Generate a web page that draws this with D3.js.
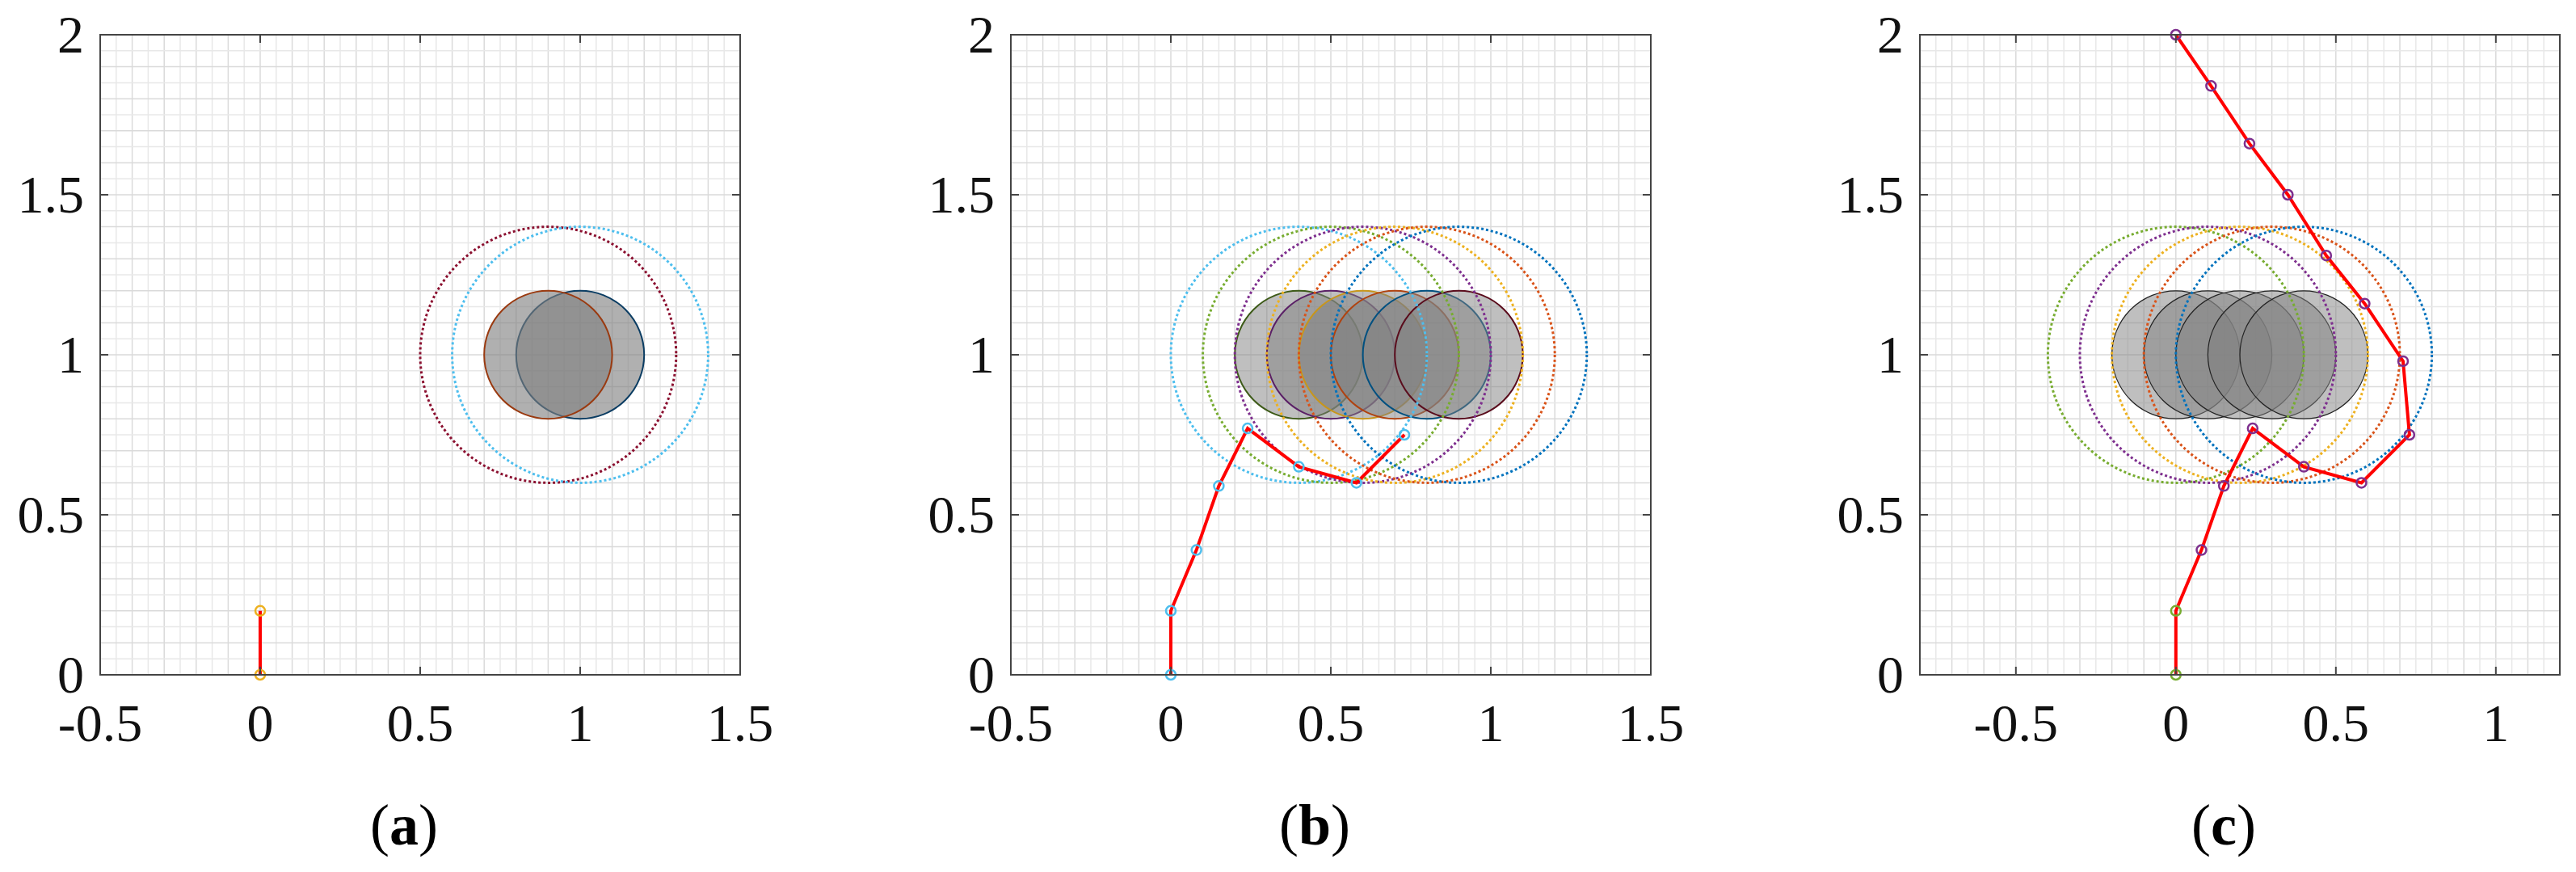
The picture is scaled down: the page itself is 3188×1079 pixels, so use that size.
<!DOCTYPE html>
<html><head><meta charset="utf-8">
<script src="https://cdn.jsdelivr.net/npm/d3@7"></script>
<style>body{margin:0;background:#fff}svg{display:block}</style>
</head><body>
<script>
// ---- data ----
const panelLabels = ["a", "b", "c"];
const xDomains = [[-0.5, 1.5], [-0.5, 1.5], [-0.8, 1.2]];
const xTickValues = [[-0.5, 0, 0.5, 1, 1.5], [-0.5, 0, 0.5, 1, 1.5], [-0.5, 0, 0.5, 1]];
const yTickValues = [0, 0.5, 1, 1.5, 2];
const bodyRadius = 0.2, rangeRadius = 0.4;
// filled obstacle circles: centre x (y = 1) and outline colour
const aBodies = [[1.0, "#0b3d63"], [0.9, "#9a3a10"]];
const aRanges = [[0.9, "#8b1030"], [1.0, "#4DBEEE"]];
const bBodies = [[0.4, "#3d5a18"], [0.5, "#5a1f66"], [0.6, "#c8961a"], [0.7, "#b0420f"], [0.8, "#005080"], [0.9, "#5a0c1c"]];
const bRanges = [[0.4, "#4DBEEE"], [0.5, "#77AC30"], [0.6, "#7E2F8E"], [0.7, "#EDB120"], [0.8, "#D95319"], [0.9, "#0072BD"]];
const cBodies = [[0.0, "#222"], [0.1, "#222"], [0.2, "#222"], [0.3, "#222"], [0.4, "#222"]];
const cRanges = [[0.0, "#77AC30"], [0.1, "#7E2F8E"], [0.2, "#EDB120"], [0.3, "#D95319"], [0.4, "#0072BD"]];
const aPath = [[0, 0], [0, 0.2]];
const bPath = [[0, 0], [0, 0.2], [0.08, 0.39], [0.15, 0.59], [0.24, 0.77], [0.4, 0.65], [0.58, 0.6], [0.73, 0.75]];
const cPath = [[0, 0], [0, 0.2], [0.08, 0.39], [0.15, 0.59], [0.24, 0.77], [0.4, 0.65], [0.58, 0.6], [0.73, 0.75],
  [0.71, 0.98], [0.59, 1.16], [0.47, 1.31], [0.35, 1.5], [0.23, 1.66], [0.11, 1.84], [0, 2]];
const aMarkerColors = ["#EDB120", "#EDB120"];
const bMarkerColors = bPath.map(() => "#4DBEEE");
const cMarkerColors = cPath.map((d, i) => i < 2 ? "#77AC30" : "#7E2F8E");

const panels = [
  {bodies: aBodies, ranges: aRanges, path: aPath, mk: aMarkerColors, left: 124, fillOp: 0.62},
  {bodies: bBodies, ranges: bRanges, path: bPath, mk: bMarkerColors, left: 1251, fillOp: 0.5},
  {bodies: cBodies, ranges: cRanges, path: cPath, mk: cMarkerColors, left: 2376, fillOp: 0.5},
];
const W = 3188, H = 1079, topY = 43, size = 792;
const svg = d3.select("body").append("svg").attr("width", W).attr("height", H);
const font = "'Liberation Serif','Times New Roman',serif";

panels.forEach((p, i) => {
  const x = d3.scaleLinear().domain(xDomains[i]).range([p.left, p.left + size]);
  const y = d3.scaleLinear().domain([0, 2]).range([topY + size, topY]);
  const g = svg.append("g");
  const cid = "clip" + i;
  g.append("clipPath").attr("id", cid).append("rect")
    .attr("x", p.left).attr("y", topY).attr("width", size).attr("height", size);
  const xd = xDomains[i];
  const minorX = d3.range(Math.ceil(xd[0] / 0.05 - 1e-6), Math.floor(xd[1] / 0.05 + 1e-6) + 1).map(k => +(k * 0.05).toFixed(3));
  const minorY = d3.range(0, 41).map(k => +(k * 0.05).toFixed(3));
  const isMajor = d => Math.abs(d * 10 - Math.round(d * 10)) < 1e-6;
  g.selectAll(".gx").data(minorX).join("line")
    .attr("x1", d => x(d)).attr("x2", d => x(d)).attr("y1", topY).attr("y2", topY + size)
    .attr("stroke", d => isMajor(d) ? "#dadada" : "#e8e8e8").attr("stroke-width", 1.5);
  g.selectAll(".gy").data(minorY).join("line")
    .attr("y1", d => y(d)).attr("y2", d => y(d)).attr("x1", p.left).attr("x2", p.left + size)
    .attr("stroke", d => isMajor(d) ? "#dadada" : "#e8e8e8").attr("stroke-width", 1.5);

  const pg = g.append("g").attr("clip-path", `url(#${cid})`);
  const rpx = v => x(v) - x(0);
  pg.selectAll(".body").data(p.bodies).join("circle")
    .attr("cx", d => x(d[0])).attr("cy", y(1)).attr("r", rpx(bodyRadius))
    .attr("fill", "#808080").attr("fill-opacity", p.fillOp)
    .attr("stroke", d => d[1]).attr("stroke-width", i === 2 ? 1.2 : 2);
  pg.selectAll(".range").data(p.ranges).join("circle")
    .attr("cx", d => x(d[0])).attr("cy", y(1)).attr("r", rpx(rangeRadius))
    .attr("fill", "none").attr("stroke", d => d[1]).attr("stroke-width", 3)
    .attr("stroke-dasharray", "3,3");
  pg.append("path").datum(p.path)
    .attr("d", d3.line().x(d => x(d[0])).y(d => y(d[1])))
    .attr("fill", "none").attr("stroke", "#ff0000").attr("stroke-width", 4);
  g.selectAll(".mk").data(p.path).join("circle")
    .attr("cx", d => x(d[0])).attr("cy", d => y(d[1])).attr("r", 6)
    .attr("fill", "none").attr("stroke", (d, k) => p.mk[k]).attr("stroke-width", 2.5);

  g.append("rect").attr("x", p.left).attr("y", topY).attr("width", size).attr("height", size)
    .attr("fill", "none").attr("stroke", "#444").attr("stroke-width", 2);
  const tl = 10;
  const xt = xTickValues[i].filter(v => v > xd[0] + 1e-6 && v < xd[1] - 1e-6);
  xt.forEach(v => {
    g.append("line").attr("x1", x(v)).attr("x2", x(v)).attr("y1", topY + size).attr("y2", topY + size - tl).attr("stroke", "#444").attr("stroke-width", 2);
    g.append("line").attr("x1", x(v)).attr("x2", x(v)).attr("y1", topY).attr("y2", topY + tl).attr("stroke", "#444").attr("stroke-width", 2);
  });
  yTickValues.filter(v => v > 0 && v < 2).forEach(v => {
    g.append("line").attr("x1", p.left).attr("x2", p.left + tl).attr("y1", y(v)).attr("y2", y(v)).attr("stroke", "#444").attr("stroke-width", 2);
    g.append("line").attr("x1", p.left + size).attr("x2", p.left + size - tl).attr("y1", y(v)).attr("y2", y(v)).attr("stroke", "#444").attr("stroke-width", 2);
  });
  g.selectAll(".xl").data(xTickValues[i]).join("text")
    .attr("x", d => x(d)).attr("y", topY + size + 82).attr("text-anchor", "middle")
    .attr("font-family", font).attr("font-size", 66).attr("fill", "#111")
    .text(d => String(d));
  g.selectAll(".yl").data(yTickValues).join("text")
    .attr("x", p.left - 20).attr("y", d => y(d) + 22).attr("text-anchor", "end")
    .attr("font-family", font).attr("font-size", 66).attr("fill", "#111")
    .text(d => String(d));
  const t = g.append("text").attr("x", p.left + size / 2 - 20).attr("y", 1045).attr("text-anchor", "middle")
    .attr("font-family", font).attr("font-size", 72).attr("fill", "#000");
  t.append("tspan").text("(");
  t.append("tspan").attr("font-weight", "bold").text(panelLabels[i]);
  t.append("tspan").text(")");
});
</script>
</body></html>
